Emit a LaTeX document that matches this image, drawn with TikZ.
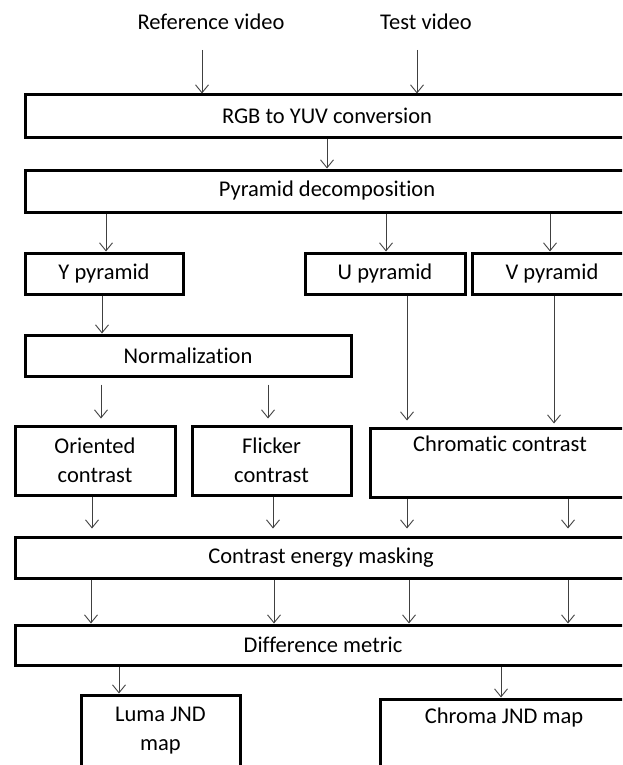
\documentclass[tikz,border=0pt]{standalone}
\usepackage{fontspec}
\setmainfont{Carlito}[Ligatures=NoCommon]
\usetikzlibrary{arrows.meta}

\tikzset{
  blk/.style={draw=black, line width=3pt, inner sep=0pt, align=center,
    font=\fontsize{22.5}{29}\selectfont},
  lbl/.style={inner sep=0pt, font=\fontsize{22.5}{29}\selectfont},
  arr/.style={draw=black!75, line width=0.9pt,
    -{Straight Barb[length=8pt,width=13pt]}},
}

\begin{document}
\begin{tikzpicture}[x=1pt,y=-1pt]
\clip (0,0) rectangle (622,765);
% inputs
\node[lbl] (refv) at (211,22) {Reference video};
\node[lbl] (testv) at (426,22) {Test video};
\coordinate (refout) at (202,50); \coordinate (testout) at (417,50);
% wide stages
\node[blk, minimum width=604pt, minimum height=42pt] (rgb) at (327,116) {RGB to YUV conversion};
\node[blk, minimum width=604pt, minimum height=42pt] (pd) at (327,191) {Pyramid decomposition};
% pyramids
\node[blk, minimum width=158pt, minimum height=41pt] (ypyr) at (104,273.5) {Y pyramid};
\node[blk, minimum width=160pt, minimum height=41pt] (upyr) at (385,273.5) {U pyramid};
\node[blk, minimum width=160pt, minimum height=41pt] (vpyr) at (552,273.5) {V pyramid};
\node[blk, minimum width=326pt, minimum height=41pt] (norm) at (188,355.5) {Normalization};
% contrasts
\node[blk, minimum width=160pt, minimum height=69pt] (orient) at (95,460.5) {Oriented\\contrast};
\node[blk, minimum width=159pt, minimum height=69pt] (flick) at (271.5,460.5) {Flicker\\contrast};
\node[blk, minimum width=260pt, minimum height=69pt] (chrom) at (500,462.5) {Chromatic contrast\\\strut};
\node[blk, minimum width=612pt, minimum height=41pt] (cem) at (321,557.5) {Contrast energy masking};
\node[blk, minimum width=616pt, minimum height=40pt] (dm) at (323,645) {Difference metric};
% outputs
\node[blk, minimum width=159pt, minimum height=72pt] (luma) at (160.5,731) {Luma JND\\map};
\node[blk, minimum width=248pt, minimum height=72pt] (chroma) at (504,735) {Chroma JND map\\\strut};

\draw[arr] (refout) -- (refout |- rgb.north);
\draw[arr] (testout) -- (testout |- rgb.north);
\draw[arr] (rgb.south) -- (pd.north);
\foreach \x/\n in {106/ypyr,386/upyr,550/vpyr}
  \draw[arr] (pd.south -| \x,0) -- (\n.north -| \x,0);
\draw[arr] (ypyr.south -| 102,0) -- (norm.north -| 102,0);
\foreach \x/\n in {101/orient,268/flick}
  \draw[arr, shorten <=7pt, shorten >=6pt] (norm.south -| \x,0) -- (\n.north -| \x,0);
\draw[arr, shorten >=6pt] (upyr.south -| 407,0) -- (chrom.north -| 407,0);
\draw[arr, shorten >=3pt] (vpyr.south -| 554,0) -- (chrom.north -| 554,0);
\foreach \x/\n in {92/orient,273/flick,407/chrom,568/chrom}
  \draw[arr, shorten >=7pt] (\n.south -| \x,0) -- (cem.north -| \x,0);
\foreach \x in {91,274,409,568}
  \draw[arr] (cem.south -| \x,0) -- (dm.north -| \x,0);
\draw[arr] (dm.south -| 119,0) -- (luma.north -| 119,0);
\draw[arr] (dm.south -| 501,0) -- (chroma.north -| 501,0);
\end{tikzpicture}
\end{document}
